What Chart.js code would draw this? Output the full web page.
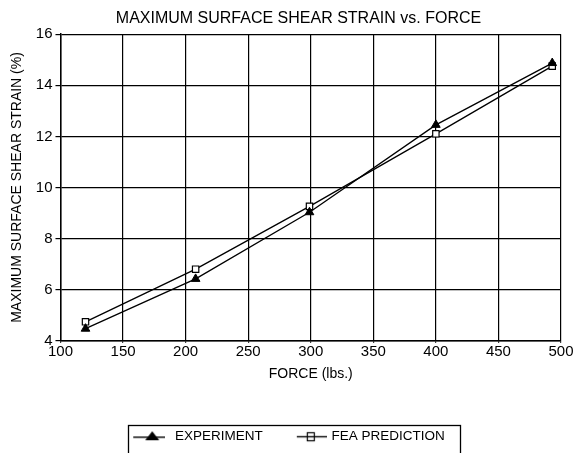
<!DOCTYPE html>
<html>
<head>
<meta charset="utf-8">
<script src="https://cdn.jsdelivr.net/npm/chart.js@4.4.0/dist/chart.umd.min.js"></script>
<style>
  html, body { margin: 0; padding: 0; background: #fff; }
  #wrap { width: 575px; height: 453px; }
</style>
</head>
<body>
<div id="wrap"><canvas id="grafico"></canvas></div>
<script>
const forcas = [120, 208, 299, 400, 493];
const experimento = [4.47, 6.42, 9.03, 12.45, 14.87];
const previsaoFea = [4.74, 6.8, 9.26, 12.1, 14.75];
const xTicks = [100, 150, 200, 250, 300, 350, 400, 450, 500];
const yTicks = [4, 6, 8, 10, 12, 14, 16];

const fonte = "'Liberation Sans', Arial, sans-serif";

// icone da legenda: linha com marcador
function iconeLegenda(tipo) {
  const c = document.createElement('canvas');
  const g = c.getContext('2d');
  if (tipo === 'tri') {
    c.width = 37; c.height = 14;
    g.strokeStyle = '#000'; g.fillStyle = '#000'; g.lineWidth = 1.4;
    g.beginPath(); g.moveTo(5, 8); g.lineTo(37, 8); g.stroke();
    g.beginPath(); g.moveTo(24, 2); g.lineTo(31, 11); g.lineTo(17, 11); g.closePath(); g.fill();
  } else {
    c.width = 47; c.height = 14;
    g.strokeStyle = '#000'; g.lineWidth = 1.4;
    g.beginPath(); g.moveTo(17, 7.5); g.lineTo(47, 7.5); g.stroke();
    g.lineWidth = 1.2;
    g.strokeRect(27.5, 3.5, 7, 8);
  }
  return c;
}

const ajustes = {
  id: 'ajustes',
  afterLayout(chart) {
    chart.titleBlock.left += 27;
  },
  afterDraw(chart) {
    const boxes = chart.legend.legendHitBoxes;
    if (!boxes || !boxes.length) return;
    const first = boxes[0], last = boxes[boxes.length - 1];
    const left = Math.round(first.left + 4) - 0.5;
    const right = Math.round(last.left + last.width + 15) + 0.5;
    const top = Math.round(first.top - 4.5) + 0.5;
    const ctx = chart.ctx;
    ctx.save();
    ctx.strokeStyle = '#000';
    ctx.lineWidth = 1.3;
    ctx.strokeRect(left, top, right - left, 60);
    ctx.restore();
  }
};

const ctx = document.getElementById('grafico').getContext('2d');
new Chart(ctx, {
  type: 'line',
  data: {
    datasets: [{
      label: 'EXPERIMENT',
      data: forcas.map((f, i) => ({ x: f, y: experimento[i] })),
      borderColor: '#000',
      backgroundColor: '#000',
      borderWidth: 1.3,
      pointStyle: 'triangle',
      pointRadius: 5,
      pointBorderWidth: 1,
      tension: 0
    }, {
      label: 'FEA PREDICTION',
      data: forcas.map((f, i) => ({ x: f, y: previsaoFea[i] })),
      borderColor: '#000',
      backgroundColor: '#fff',
      borderWidth: 1.3,
      pointStyle: 'rect',
      pointRadius: 4.5,
      pointBorderWidth: 1.2,
      tension: 0
    }]
  },
  options: {
    responsive: true,
    maintainAspectRatio: false,
    animation: false,
    layout: { padding: { top: 9, left: 9, right: 14, bottom: 0 } },
    plugins: {
      title: {
        display: true,
        text: 'MAXIMUM SURFACE SHEAR STRAIN vs. FORCE',
        color: '#000',
        font: { family: fonte, size: 16, weight: 'normal' },
        padding: { top: 0, bottom: 6 }
      },
      legend: {
        position: 'bottom',
        labels: {
          color: '#000',
          font: { family: fonte, size: 13.5 },
          usePointStyle: true,
          pointStyleWidth: 43,
          padding: 19,
          generateLabels: (chart) => chart.data.datasets.map((ds, i) => ({
            text: ds.label,
            pointStyle: iconeLegenda(i === 0 ? 'tri' : 'sq'),
            fillStyle: '#000',
            strokeStyle: '#000',
            lineWidth: 0,
            datasetIndex: i,
            fontColor: '#000'
          }))
        }
      },
      tooltip: { enabled: false }
    },
    scales: {
      x: {
        type: 'linear',
        min: 100,
        max: 500,
        afterBuildTicks: (axis) => { axis.ticks = xTicks.map(v => ({ value: v })); },
        ticks: { color: '#000', font: { family: fonte, size: 15 }, padding: 0 },
        grid: { color: '#000', lineWidth: 1.2, tickLength: 2 },
        border: { color: '#000', width: 1.5 },
        title: {
          display: true,
          text: 'FORCE (lbs.)',
          color: '#000',
          font: { family: fonte, size: 14 },
          padding: { top: 5, bottom: 28 }
        }
      },
      y: {
        min: 4,
        max: 16,
        afterBuildTicks: (axis) => { axis.ticks = yTicks.map(v => ({ value: v })); },
        ticks: { color: '#000', font: { family: fonte, size: 15 }, padding: 3 },
        grid: { color: '#000', lineWidth: 1.2, tickLength: 5 },
        border: { color: '#000', width: 1.5 },
        title: {
          display: true,
          text: 'MAXIMUM SURFACE SHEAR STRAIN (%)',
          color: '#000',
          font: { family: fonte, size: 14 },
          padding: { top: 0, bottom: 7 }
        }
      }
    }
  },
  plugins: [ajustes]
});
</script>
</body>
</html>
